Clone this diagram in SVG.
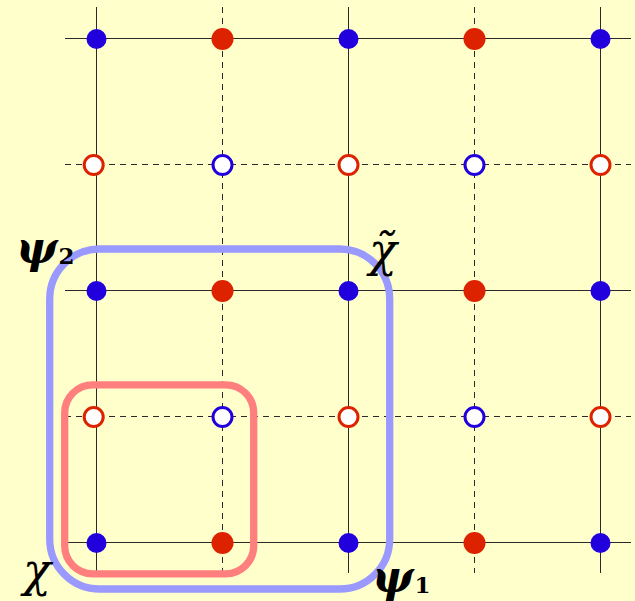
<svg xmlns="http://www.w3.org/2000/svg" width="635" height="601" viewBox="0 0 635 601">
<style>
.solid{stroke:#2a2a2a;stroke-width:1;fill:none}
.dash{stroke:#2a2a2a;stroke-width:1;fill:none;stroke-dasharray:6,5}
.bf{fill:#2200dd}
.rf{fill:#dd2200}
.bo{fill:#fff;stroke:#2200dd;stroke-width:3}
.ro{fill:#fff;stroke:#dd2200;stroke-width:3}
.lbl{font-family:"DejaVu Serif","Liberation Serif",serif;font-style:italic;fill:#000}
.b{font-weight:bold}
.sub{font-family:"DejaVu Serif","Liberation Serif",serif;font-weight:bold;font-style:normal;fill:#000}
</style>
<rect width="635" height="601" fill="#ffffcc"/>
<g id="grid">
<line class="solid" x1="65" y1="38.5" x2="631" y2="38.5"/>
<line class="solid" x1="65" y1="290.5" x2="631" y2="290.5"/>
<line class="solid" x1="65" y1="542.5" x2="631" y2="542.5"/>
<line class="dash" x1="65" y1="164.5" x2="631" y2="164.5"/>
<line class="dash" x1="65" y1="416.5" x2="631" y2="416.5"/>
<line class="solid" x1="96.5" y1="7" x2="96.5" y2="573"/>
<line class="solid" x1="348.5" y1="7" x2="348.5" y2="573"/>
<line class="solid" x1="600.5" y1="7" x2="600.5" y2="573"/>
<line class="dash" x1="222.5" y1="7" x2="222.5" y2="573"/>
<line class="dash" x1="474.5" y1="7" x2="474.5" y2="573"/>
</g>
<g id="loops" fill="none" stroke-width="7.3">
<rect id="blueloop" x="49.7" y="249" width="340" height="340" rx="50" stroke="#9999ff"/>
<rect id="redloop" x="64.7" y="384.8" width="189" height="189" rx="28" stroke="#ff7f7f"/>
</g>
<g id="sites">
<circle class="bf" cx="96.5" cy="39" r="10"/>
<circle class="rf" cx="222.5" cy="39" r="11"/>
<circle class="bf" cx="348.5" cy="39" r="10"/>
<circle class="rf" cx="474.5" cy="39" r="11"/>
<circle class="bf" cx="600.5" cy="39" r="10"/>
<circle class="ro" cx="93.7" cy="165" r="9.5"/>
<circle class="bo" cx="222.5" cy="165" r="9.5"/>
<circle class="ro" cx="348.5" cy="165" r="9.5"/>
<circle class="bo" cx="474.5" cy="165" r="9.5"/>
<circle class="ro" cx="600.5" cy="165" r="9.5"/>
<circle class="bf" cx="96.5" cy="291" r="10"/>
<circle class="rf" cx="222.5" cy="291" r="11"/>
<circle class="bf" cx="348.5" cy="291" r="10"/>
<circle class="rf" cx="474.5" cy="291" r="11"/>
<circle class="bf" cx="600.5" cy="291" r="10"/>
<circle class="ro" cx="93.7" cy="417" r="9.5"/>
<circle class="bo" cx="222.5" cy="417" r="9.5"/>
<circle class="ro" cx="348.5" cy="417" r="9.5"/>
<circle class="bo" cx="474.5" cy="417" r="9.5"/>
<circle class="ro" cx="600.5" cy="417" r="9.5"/>
<circle class="bf" cx="96.5" cy="543" r="10"/>
<circle class="rf" cx="222.5" cy="543" r="11"/>
<circle class="bf" cx="348.5" cy="543" r="10"/>
<circle class="rf" cx="474.5" cy="543" r="11"/>
<circle class="bf" cx="600.5" cy="543" r="10"/>
</g>
<g id="labels">
<text class="lbl b" x="16" y="263" font-size="44">ψ<tspan class="sub" font-size="23" dx="1" dy="1">2</tspan></text>
<text class="lbl" x="369" y="266" font-size="46">χ̃</text>
<text class="lbl" x="23" y="586" font-size="46">χ</text>
<text class="lbl b" x="372" y="592" font-size="44">ψ<tspan class="sub" font-size="23" dx="1" dy="1">1</tspan></text>
</g>
</svg>
